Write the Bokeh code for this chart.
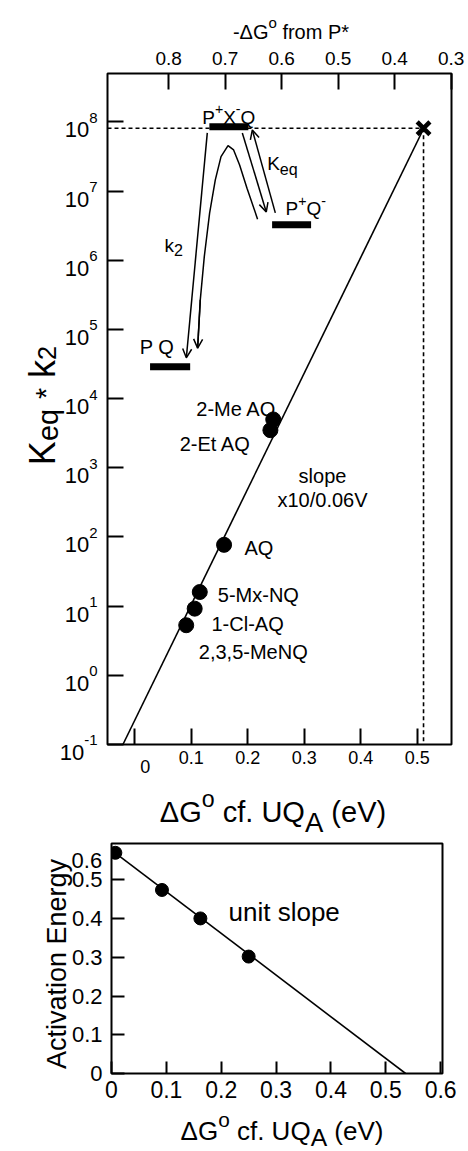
import math
from bokeh.plotting import figure
from bokeh.models import Range1d, FixedTicker, Arrow, OpenHead, LinearAxis
from bokeh.core.properties import value
from bokeh.layouts import column
from bokeh.embed import file_html
from bokeh.resources import INLINE

FONT = "Liberation Sans"
PAGE = 0  # the page template has no body margin

# ---------------- data: upper panel ----------------
quinones = ["2-Me AQ", "2-Et AQ", "AQ", "5-Mx-NQ", "1-Cl-AQ", "2,3,5-MeNQ"]
dG_quinone = [0.245, 0.240, 0.158, 0.115, 0.106, 0.091]
keq_k2 = [5.0e3, 3.5e3, 77.0, 16.0, 9.2, 5.3]

fit_x = [-0.021, 0.5115]
fit_y = [0.1, 8.1e7]

star_x = [0.511]
star_y = [8.1e7]

level_names = ["P+X-Q", "P+Q-", "P Q"]
level_x0 = [0.132, 0.243, 0.027]
level_x1 = [0.201, 0.312, 0.098]
level_y = [8.5e7, 3.25e6, 2.9e4]

barrier_x = [0.1112, 0.1159, 0.1230, 0.1324, 0.1425, 0.1526, 0.1650, 0.1749, 0.1855, 0.1986, 0.2173]
barrier_y = [5.37e4, 2.68e5, 1.13e6, 4.80e6, 1.45e7, 3.15e7, 4.55e7, 3.94e7, 2.39e7, 1.10e7, 3.93e6]

arrow_x0 = [0.1283, 0.1903, 0.2487, 0.1159]
arrow_y0 = [6.93e7, 6.93e7, 4.84e6, 2.68e5]
arrow_x1 = [0.0912, 0.2327, 0.2080, 0.1112]
arrow_y1 = [3.89e4, 5.0e6, 7.66e7, 5.37e4]

top_ticks = [0.8, 0.7, 0.6, 0.5, 0.4, 0.3]      # -dG from P*
bottom_ticks = [0.0, 0.1, 0.2, 0.3, 0.4, 0.5]
log_exps = [-1, 0, 1, 2, 3, 4, 5, 6, 7, 8]
P_STAR_OFFSET = 0.86  # -dG from P* = 0.86 - dG cf. UQA

# ---------------- data: lower panel ----------------
act_x = [0.007, 0.092, 0.162, 0.250]
act_y = [0.570, 0.474, 0.4005, 0.302]
unit_fit_x = [0.0, 0.536]
unit_fit_y = [0.577, 0.0]
low_x_ticks = [0.0, 0.1, 0.2, 0.3, 0.4, 0.5, 0.6]
low_y_ticks = [0.0, 0.1, 0.2, 0.3, 0.4, 0.5]

# ---------------- helpers ----------------
W = {' ': 278, '(': 333, ')': 333, '*': 389, '+': 584, ',': 278, '-': 333, '.': 278, '/': 278,
     'A': 667, 'C': 722, 'E': 667, 'G': 778, 'K': 667, 'M': 833, 'N': 722, 'O': 778, 'P': 667,
     'Q': 778, 'U': 722, 'V': 667, 'X': 667, 'a': 556, 'c': 500, 'e': 556, 'f': 278, 'g': 556,
     'i': 222, 'k': 500, 'l': 222, 'm': 833, 'n': 556, 'o': 556, 'p': 556, 'q': 556, 'r': 333,
     's': 500, 't': 278, 'u': 556, 'v': 500, 'x': 500, 'y': 500, '\u0394': 668}
for d in "0123456789":
    W[d] = 556


def tw(text, size):
    return sum(W.get(c, 556) for c in text) * size / 1000.0


def add_runs(fig, ax, ay, dx, dy, runs, size, align="left", angle=0.0):
    """Text made of runs (text, relative size, relative baseline shift, + = up).
    (dx, dy): pixel offset of the baseline start from the data anchor, dy + = up."""
    widths = [tw(t, size * rs) for t, rs, sh in runs]
    total = sum(widths)
    pos = {"left": 0.0, "center": -total / 2.0, "right": -total}[align]
    for (t, rs, sh), w in zip(runs, widths):
        s = t.strip(" ")
        if s:
            lead = tw(" " * (len(t) - len(t.lstrip(" "))), size * rs)
            if angle == 0.0:
                xo, yo = dx + pos + lead, dy + sh * size
            else:
                xo, yo = dx - sh * size, dy + pos + lead
            fig.text(x=[ax], y=[ay], text=[s], x_offset=xo, y_offset=-yo, angle=angle,
                     text_font=value(FONT), text_font_size=f"{size * rs:.1f}px",
                     text_color="black", text_baseline="alphabetic", text_align="left",
                     level="annotation")
        pos += w


def style_axis(ax, size, tick_len, standoff):
    ax.axis_line_color = None
    ax.major_tick_in = tick_len
    ax.major_tick_out = 0
    ax.major_tick_line_width = 2
    ax.major_tick_line_color = "black"
    ax.minor_tick_line_color = None
    ax.major_label_text_font = FONT
    ax.major_label_text_font_size = f"{size}px"
    ax.major_label_text_color = "black"
    ax.major_label_standoff = standoff


def base_style(fig):
    fig.outline_line_color = "black"
    fig.outline_line_width = 2
    fig.outline_line_alpha = 1.0
    fig.xgrid.visible = False
    fig.ygrid.visible = False
    fig.background_fill_color = "white"
    fig.border_fill_color = "white"


# ---------------- upper panel ----------------
XL, XR = -0.0483, 0.5605
YB, YT = 0.1, 10 ** 8.70
FL_PG, FB_PG = 107.0, 744.0  # page position of the frame's bottom-left corner

p = figure(width=468, height=838, x_range=Range1d(XL, XR), y_range=Range1d(YB, YT),
           y_axis_type="log", output_backend="svg", toolbar_location=None,
           x_axis_location=None, frame_align=False,
           min_border_left=107 - PAGE, min_border_right=17, min_border_top=73 - PAGE,
           min_border_bottom=838 - 744)
base_style(p)

top_tick_x = [P_STAR_OFFSET - t for t in top_ticks]
top_ax = LinearAxis(ticker=FixedTicker(ticks=top_tick_x),
                    major_label_overrides={x: f"{t:.1f}" for x, t in zip(top_tick_x, top_ticks)})
style_axis(top_ax, 19, 16, 9)
p.add_layout(top_ax, "above")

bot_ax = LinearAxis(ticker=FixedTicker(ticks=bottom_ticks), major_label_overrides={0: ""})
style_axis(bot_ax, 18, 16, 6)
p.add_layout(bot_ax, "below")

style_axis(p.yaxis[0], 20, 16, 10)
p.yaxis[0].ticker = FixedTicker(ticks=[10.0 ** e for e in log_exps])
p.yaxis[0].major_label_overrides = {10.0 ** e: "" for e in log_exps}

# reference lines to the X point
p.line([XL, star_x[0]], [star_y[0], star_y[0]], line_color="black", line_width=1.6, line_dash="4 3")
p.line([star_x[0], star_x[0]], [star_y[0], YB], line_color="black", line_width=1.6, line_dash="4 3")
# fit line
p.line(fit_x, fit_y, line_color="black", line_width=1.6)
# energy levels
p.segment(level_x0, level_y, level_x1, level_y, line_color="black", line_width=7, line_cap="butt")
# barrier curve and arrows
p.line(barrier_x, barrier_y, line_color="black", line_width=1.5)
for x0, y0, x1, y1 in zip(arrow_x0, arrow_y0, arrow_x1, arrow_y1):
    p.add_layout(Arrow(end=OpenHead(size=9, line_width=1.5, line_color="black"),
                       x_start=x0, y_start=y0, x_end=x1, y_end=y1,
                       line_color="black", line_width=1.5))
# data points
p.scatter(dG_quinone, keq_k2, marker="circle", size=15, color="black")
p.scatter(star_x, star_y, marker="x", size=18, line_width=4.5, color="black")


def top_text(x_pg, y_pg, runs, size, align="left", angle=0.0):
    add_runs(p, XL, YB, x_pg - FL_PG, FB_PG - y_pg, runs, size, align, angle)


# y tick labels 10^n
for e in log_exps:
    add_runs(p, XL, 10.0 ** e, -10, -8, [("10", 1, 0), (str(e), 0.68, 0.55)], 22, "right")
# "0" on the bottom axis (shifted right in the original)
add_runs(p, 0.0, YB, 10.5, -21.5, [("0", 1, 0)], 18, "center")

top_text(290.5, 31, [("-\u0394G", 1, 0), ("o", 0.75, 0.45), (" from P*", 1, 0)], 20, "center")
top_text(42, 405, [("K", 1, 0), ("eq", 0.8, -0.15), (" ", 1, 0), ("*", 0.8, -0.1),
                   (" k", 1, 0), ("2", 0.7, -0.12)], 36, "center", math.pi / 2)
top_text(272.5, 811, [("\u0394G", 1, 0), ("o", 0.8, 0.42), (" cf. UQ", 1, 0), ("A", 0.95, -0.38),
                      (" (eV)", 1, 0)], 29, "center")

top_text(228.3, 116.7, [("P", 1, 0), ("+", 0.75, 0.42), ("X", 1, 0), ("-", 0.75, 0.42), ("Q", 1, 0)], 19, "center")
top_text(285, 208.3, [("P", 1, 0), ("+", 0.75, 0.42), ("Q", 1, 0), ("-", 0.75, 0.42)], 19)
top_text(266.7, 163.3, [("K", 1, 0), ("eq", 0.85, -0.26)], 19)
top_text(164, 245, [("k", 1, 0), ("2", 0.85, -0.26)], 19)
top_text(139.3, 346.7, [("P Q", 1, 0)], 20)

quinone_label_pos = [(235.8, 408.3, "center"), (214.8, 443.3, "center"), (244, 547.3, "left"),
                     (217.3, 594, "left"), (211, 623.3, "left"), (198.3, 651.7, "left")]
for name, (lx, ly, al) in zip(quinones, quinone_label_pos):
    top_text(lx, ly, [(name, 1, 0)], 20, al)
top_text(322, 475, [("slope", 1, 0)], 20, "center")
top_text(322, 499.3, [("x10/0.06V", 1, 0)], 20, "center")

# ---------------- lower panel ----------------
LXL, LXR = 0.0, 0.6033
LYB, LYT = 0.0, 0.594
LFL_PG, LFB_PG = 111.0, 1073.0
LOW_TOP_PG, LOW_H = 838, 312

q = figure(width=468, height=LOW_H, x_range=Range1d(LXL, LXR), y_range=Range1d(LYB, LYT),
           output_backend="svg", toolbar_location=None, frame_align=False,
           min_border_left=111 - PAGE, min_border_right=468 - 442, min_border_top=843 - LOW_TOP_PG,
           min_border_bottom=LOW_TOP_PG + LOW_H - 1073)
base_style(q)
q.xaxis[0].ticker = FixedTicker(ticks=low_x_ticks)
q.yaxis[0].ticker = FixedTicker(ticks=low_y_ticks)
q.xaxis[0].major_label_overrides = {0: "0"}
q.yaxis[0].major_label_overrides = {0: "0"}
style_axis(q.xaxis[0], 23, 12, 7)
style_axis(q.yaxis[0], 22, 13, 9)

q.line(unit_fit_x, unit_fit_y, line_color="black", line_width=1.6)
q.scatter(act_x, act_y, marker="circle", size=13, color="black")


def low_text(x_pg, y_pg, runs, size, align="left", angle=0.0):
    add_runs(q, LXL, LYB, x_pg - LFL_PG, LFB_PG - y_pg, runs, size, align, angle)


low_text(101.7, 859.5, [("0.6", 1, 0)], 22, "right")
low_text(228, 911.7, [("unit slope", 1, 0)], 26)
low_text(56, 963.5, [("Activation Energy", 1, 0)], 27, "center", math.pi / 2)
low_text(281.5, 1130, [("\u0394G", 1, 0), ("o", 0.8, 0.42), (" cf. UQ", 1, 0), ("A", 0.95, -0.26),
                       (" (eV)", 1, 0)], 26, "center")

layout = column(p, q)
open("out.html", "w").write(file_html(layout, INLINE))
